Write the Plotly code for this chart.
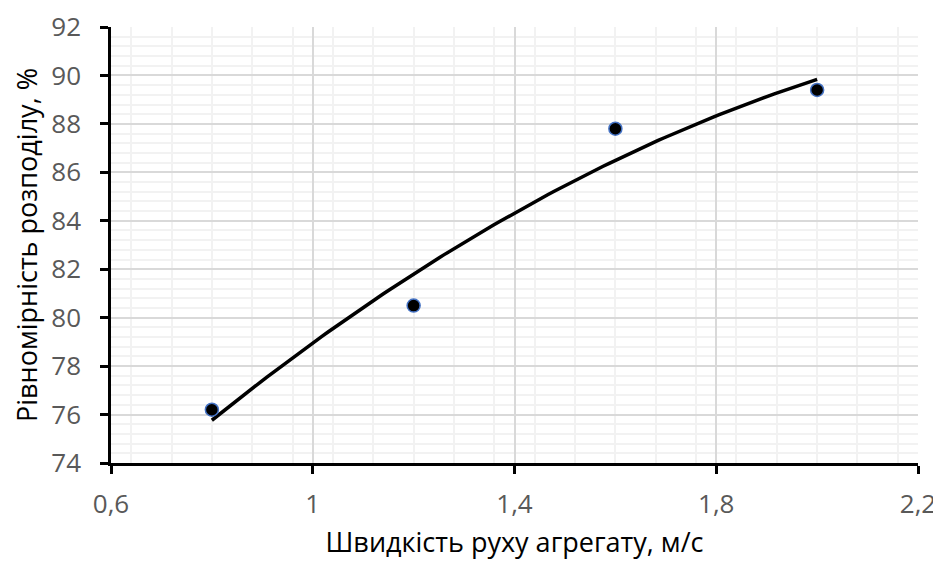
import numpy as np
import plotly.graph_objects as go

speed = [0.8, 1.2, 1.6, 2.0]
uniformity = [76.2, 80.5, 87.8, 89.4]

# second-order polynomial trendline fitted to the data (as in the source chart)
coef = np.polyfit(speed, uniformity, 2)
xs = np.linspace(min(speed), max(speed), 100)
ys = np.polyval(coef, xs)

fig = go.Figure()
fig.add_trace(go.Scatter(x=xs, y=ys, mode="lines",
                         line=dict(color="black", width=3.5), showlegend=False,
                         hoverinfo="skip"))
fig.add_trace(go.Scatter(x=speed, y=uniformity, mode="markers",
                         marker=dict(color="black", size=13,
                                     line=dict(color="#4472C4", width=1.5)),
                         showlegend=False))

font_fam = "Open Sans, Liberation Sans, sans-serif"
# page body has an 8px margin, so the figure is slightly smaller than the window
fig.update_layout(
    width=933, height=557,
    margin=dict(l=103, r=23, t=19, b=102),
    paper_bgcolor="white", plot_bgcolor="white",
    separators=", ",
    font=dict(family=font_fam),
    xaxis=dict(range=[0.6, 2.2], dtick=0.4, tick0=0.6, automargin=False,
               showgrid=True, gridcolor="#D9D9D9", gridwidth=1.5,
               minor=dict(dtick=0.08, showgrid=True, gridcolor="#F2F2F2", gridwidth=1.5),
               showline=True, linecolor="black", linewidth=2.5,
               ticks="outside", ticklen=8, tickwidth=2.5, tickcolor="black",
               ticklabelstandoff=8,
               tickfont=dict(size=26, color="#595959"),
               title=dict(text="Швидкість руху агрегату, м/с",
                          font=dict(size=27, color="black"), standoff=14),
               zeroline=False),
    yaxis=dict(range=[74, 92], dtick=2, tick0=74, automargin=False,
               showgrid=True, gridcolor="#D9D9D9", gridwidth=1.5,
               minor=dict(dtick=0.4, showgrid=True, gridcolor="#F2F2F2", gridwidth=1.5),
               showline=True, linecolor="black", linewidth=2.5,
               ticks="outside", ticklen=8, tickwidth=2.5, tickcolor="black",
               ticklabelstandoff=14,
               tickfont=dict(size=26, color="#595959"),
               title=dict(text="Рівномірність розподілу, %",
                          font=dict(size=27, color="black"), standoff=17),
               zeroline=False),
)
fig.write_html("out.html")
